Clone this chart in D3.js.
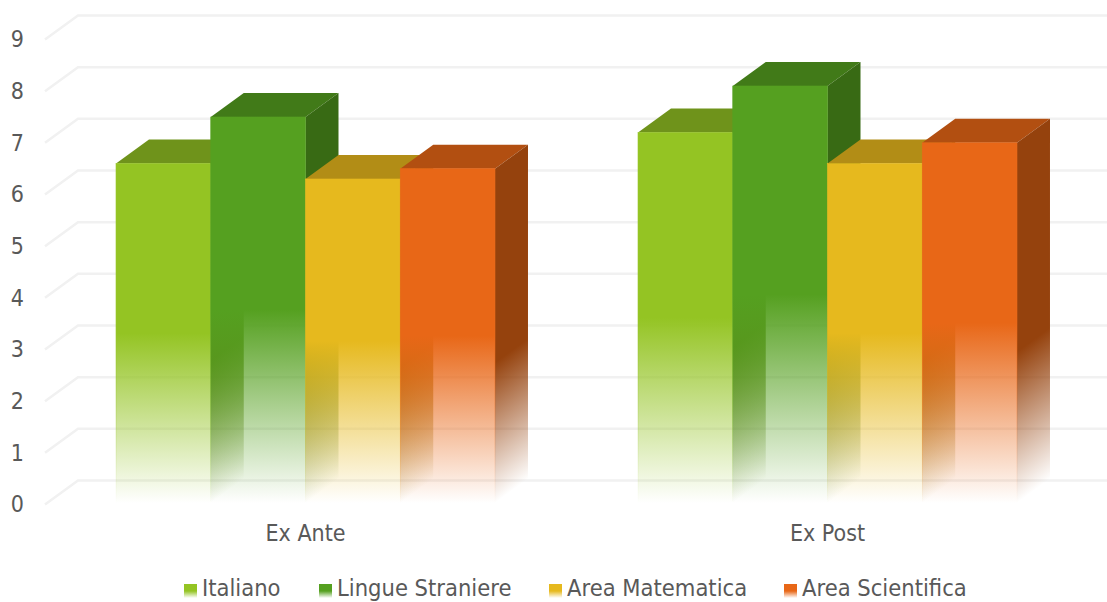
<!DOCTYPE html>
<meta charset="utf-8">
<script src="https://d3js.org/d3.v7.min.js"></script>
<style>
  html, body { margin: 0; padding: 0; background: #fff; overflow: hidden; }
  text { font-family: "DejaVu Sans Condensed", "DejaVu Sans", sans-serif; fill: #595959; }
</style>
<div id="my_dataviz"></div>
<script>

// data
var groups = ["Ex Ante", "Ex Post"];
var seriesNames = ["Italiano", "Lingue Straniere", "Area Matematica", "Area Scientifica"];
var italiano = [6.6, 7.2];
var lingue = [7.5, 8.1];
var matematica = [6.3, 6.6];
var scientifica = [6.5, 7.0];
var seriesValues = [italiano, lingue, matematica, scientifica];
var yTicks = [0, 1, 2, 3, 4, 5, 6, 7, 8, 9];

var frontColors = ["#94c423", "#55a020", "#e6b91e", "#e86717"];
var topColors = ["#6f931b", "#417a18", "#b28d16", "#b24f11"];
var sideColors = ["#5f7e16", "#386a14", "#94770f", "#95420d"];

var width = 1107, height = 602;
// depth of the fake 3d box
var depthX = 33, depthY = 24;

var svg = d3.select("#my_dataviz")
  .append("svg")
    .attr("width", width)
    .attr("height", height)
    .style("display", "block");

var x = d3.scaleBand()
  .domain(groups)
  .range([44.5, 1088.5])
  .paddingInner(0.274)
  .paddingOuter(0.137);

var xInner = d3.scaleBand()
  .domain(seriesNames)
  .range([0, x.bandwidth()]);

var y = d3.scaleLinear()
  .domain([0, 9])
  .range([504.5, 39.5]);

// a fade: solid down to the given offset, gone at the bottom
var defs = svg.append("defs");
function addStops(g, color, solidTo) {
  g.append("stop").attr("offset", "0%").attr("stop-color", color);
  g.append("stop").attr("offset", solidTo).attr("stop-color", color);
  g.append("stop").attr("offset", "100%").attr("stop-color", color).attr("stop-opacity", 0);
}
seriesNames.forEach(function(s, i) {
  var g = defs.append("linearGradient")
    .attr("id", "front" + i)
    .attr("x1", 0).attr("y1", 0).attr("x2", 0).attr("y2", 1);
  addStops(g, frontColors[i], "50%");
});

// side face fade is skewed so it runs parallel to the diagonal bottom edge
function addSideFade(id, color, px, yTop, yBase) {
  var len = Math.sqrt(depthX * depthX + depthY * depthY),
      nx = depthY / len,
      ny = depthX / len,
      dist = (yBase - yTop) / (ny + nx * depthY / depthX);
  var g = defs.append("linearGradient")
    .attr("id", id)
    .attr("gradientUnits", "userSpaceOnUse")
    .attr("x1", px).attr("y1", yTop)
    .attr("x2", px + dist * nx).attr("y2", yTop + dist * ny);
  addStops(g, color, "58%");
}

// grid: back wall line plus the short diagonal on the left wall
var grid = svg.append("g");
grid.selectAll("path")
  .data(yTicks)
  .enter()
  .append("path")
    .attr("fill", "none")
    .attr("stroke", "#f1f1f1")
    .attr("stroke-width", 2.5)
    .attr("d", function(d) {
      return "M45," + y(d) + "L" + (45 + depthX) + "," + (y(d) - depthY) + "L" + width + "," + (y(d) - depthY);
    });

// Y axis, only the labels show
var yAxis = svg.append("g")
  .attr("transform", "translate(24,0)")
  .call(d3.axisLeft(y).tickValues(yTicks).tickSize(0).tickPadding(0));
yAxis.select(".domain").remove();
yAxis.selectAll("text").style("font-size", "23px").attr("fill", "#595959");

// X axis labels
var xAxis = svg.append("g")
  .attr("transform", "translate(0,533)")
  .call(d3.axisBottom(x).tickSize(0).tickPadding(0));
xAxis.select(".domain").remove();
xAxis.selectAll("text").attr("dy", "0.35em").attr("y", 0).style("font-size", "23px").attr("fill", "#595959");

// bars, left to right so that each one covers the side of the previous one
groups.forEach(function(group, g) {
  seriesNames.forEach(function(name, s) {
    var x0 = x(group) + xInner(name),
        x1 = x0 + xInner.bandwidth(),
        yTop = y(seriesValues[s][g]),
        yBase = y(0) - 1.5,
        sideId = "side" + g + "_" + s;

    addSideFade(sideId, sideColors[s], x1, yTop, yBase);

    svg.append("path")
      .attr("fill", topColors[s])
      .attr("d", "M" + x0 + "," + yTop + "L" + (x0 + depthX) + "," + (yTop - depthY) +
                 "L" + (x1 + depthX) + "," + (yTop - depthY) + "L" + x1 + "," + yTop + "Z");

    svg.append("path")
      .attr("fill", "url(#" + sideId + ")")
      .attr("d", "M" + x1 + "," + yTop + "L" + (x1 + depthX) + "," + (yTop - depthY) +
                 "L" + (x1 + depthX) + "," + (yBase - depthY) + "L" + x1 + "," + yBase + "Z");

    svg.append("rect")
      .attr("x", x0)
      .attr("y", yTop)
      .attr("width", x1 - x0)
      .attr("height", yBase - yTop)
      .attr("fill", "url(#front" + s + ")")
      .attr("stroke", "url(#front" + s + ")")
      .attr("stroke-width", 0.6);
  });
});

// legend
var legendSwatchX = [184, 319, 549, 784];
var legend = svg.selectAll(".legendItem")
  .data(seriesNames)
  .enter()
  .append("g")
    .attr("class", "legendItem")
    .attr("transform", function(d, i) { return "translate(" + legendSwatchX[i] + ",582)"; });
legend.append("rect")
  .attr("y", 2)
  .attr("width", 13)
  .attr("height", 14)
  .attr("fill", function(d, i) { return "url(#front" + i + ")"; });
legend.append("text")
  .attr("x", 18)
  .attr("y", 14)
  .style("font-size", "23.5px")
  .text(function(d) { return d; });

</script>
